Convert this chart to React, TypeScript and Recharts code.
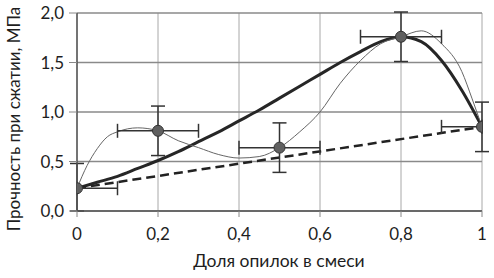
import React from 'react';
import {
  ComposedChart, Line, Scatter, XAxis, YAxis, CartesianGrid, ErrorBar, Label,
} from 'recharts';

const xTicks = [0, 0.2, 0.4, 0.6, 0.8, 1];
const yTicks = [0, 0.5, 1, 1.5, 2];

// experimental points with error bars (visible part of each bar: [minus, plus])
const pointX = [0, 0.2, 0.5, 0.8, 1];
const pointY = [0.23, 0.81, 0.64, 1.76, 0.85];
const pointErrX = [[0, 0.1], [0.1, 0.1], [0.1, 0.1], [0.1, 0.1], [0.1, 0]];
const pointErrY = [[0.23, 0.25], [0.25, 0.25], [0.25, 0.25], [0.25, 0.25], [0.25, 0.25]];

// thick fitted curve
const thickX = [0, 0.05, 0.1, 0.15, 0.2, 0.25, 0.3, 0.35, 0.4, 0.45, 0.5, 0.55, 0.6, 0.65, 0.7, 0.75, 0.8, 0.85, 0.9, 0.95, 1];
const thickY = [0.23, 0.29, 0.35, 0.43, 0.51, 0.6, 0.7, 0.8, 0.91, 1.02, 1.14, 1.26, 1.38, 1.5, 1.61, 1.71, 1.76, 1.71, 1.52, 1.22, 0.85];

// thin curve through the points
const thinX = [0, 0.025, 0.05, 0.075, 0.1, 0.15, 0.2, 0.25, 0.3, 0.35, 0.4, 0.45, 0.5, 0.55, 0.6, 0.65, 0.7, 0.75, 0.8, 0.85, 0.9, 0.95, 0.975, 1];
const thinY = [0.23, 0.46, 0.63, 0.75, 0.8, 0.84, 0.81, 0.71, 0.64, 0.57, 0.535, 0.55, 0.64, 0.8, 1.0, 1.29, 1.52, 1.69, 1.76, 1.82, 1.69, 1.41, 1.14, 0.85];

// dashed straight line
const dashX = [0, 1];
const dashY = [0.23, 0.85];

const points = pointX.map((x, i) => ({ x, y: pointY[i], ex: pointErrX[i], ey: pointErrY[i] }));
const thick = thickX.map((x, i) => ({ x, y: thickY[i] }));
const thin = thinX.map((x, i) => ({ x, y: thinY[i] }));
const dash = dashX.map((x, i) => ({ x, y: dashY[i] }));

const fmtX = (v: number) => String(v).replace('.', ',');
const fmtY = (v: number) => v.toFixed(1).replace('.', ',');

const FONT = 'Lato, "Open Sans", sans-serif';
const TEXT = '#1e1e1e';

const Dot = (props: any) => {
  const { cx, cy } = props;
  return <circle cx={cx} cy={cy} r={5.5} fill="#606060" stroke="#333" strokeWidth={1} />;
};

export default function App() {
  return (
    <div style={{ position: 'absolute', left: 0, top: 0, width: 494, height: 278, background: '#fff' }}>
      <ComposedChart width={494} height={278} margin={{ top: 13, right: 12, bottom: 0, left: 0 }}>
        <CartesianGrid stroke="#a8a8a8" strokeWidth={1} horizontal={false} />
        <CartesianGrid stroke="#8a8a8a" strokeWidth={1.5} vertical={false} />
        <XAxis
          type="number"
          dataKey="x"
          domain={[0, 1]}
          ticks={xTicks}
          allowDataOverflow
          tickFormatter={fmtX}
          height={67}
          tickSize={6}
          tickMargin={11}
          axisLine={{ stroke: '#555', strokeWidth: 1.5 }}
          tickLine={{ stroke: '#888' }}
          tick={{ fill: TEXT, fontSize: 17, fontFamily: FONT }}
        >
          <Label
            content={() => (
              <text x={279} y={267} textAnchor="middle" fill={TEXT} fontSize={17.5} fontFamily={FONT}>
                Доля опилок в смеси
              </text>
            )}
          />
        </XAxis>
        <YAxis
          type="number"
          dataKey="y"
          domain={[0, 2]}
          ticks={yTicks}
          allowDataOverflow
          tickFormatter={fmtY}
          width={77}
          tickSize={8}
          tickMargin={5}
          axisLine={{ stroke: '#555', strokeWidth: 1.5 }}
          tickLine={{ stroke: '#888' }}
          tick={{ fill: TEXT, fontSize: 17, fontFamily: FONT }}
        >
          <Label
            content={() => (
              <text
                x={13}
                y={119}
                transform="rotate(-90 13 119)"
                textAnchor="middle"
                dominantBaseline="central"
                fill={TEXT}
                fontSize={17}
                fontFamily={FONT}
              >
                Прочность при сжатии, МПа
              </text>
            )}
          />
        </YAxis>
        <Line
          data={thick}
          dataKey="y"
          type="monotone"
          stroke="#262626"
          strokeWidth={3}
          dot={false}
          isAnimationActive={false}
        />
        <Line
          data={thin}
          dataKey="y"
          type="monotone"
          stroke="#666"
          strokeWidth={1}
          dot={false}
          isAnimationActive={false}
        />
        <Line
          data={dash}
          dataKey="y"
          type="linear"
          stroke="#222"
          strokeWidth={2.5}
          strokeDasharray="9 5"
          dot={false}
          isAnimationActive={false}
        />
        <Scatter data={points} dataKey="y" shape={<Dot />} isAnimationActive={false}>
          <ErrorBar dataKey="ey" direction="y" width={7} stroke="#333" strokeWidth={1.5} isAnimationActive={false} />
          <ErrorBar dataKey="ex" direction="x" width={7} stroke="#333" strokeWidth={1.5} isAnimationActive={false} />
        </Scatter>
      </ComposedChart>
    </div>
  );
}
